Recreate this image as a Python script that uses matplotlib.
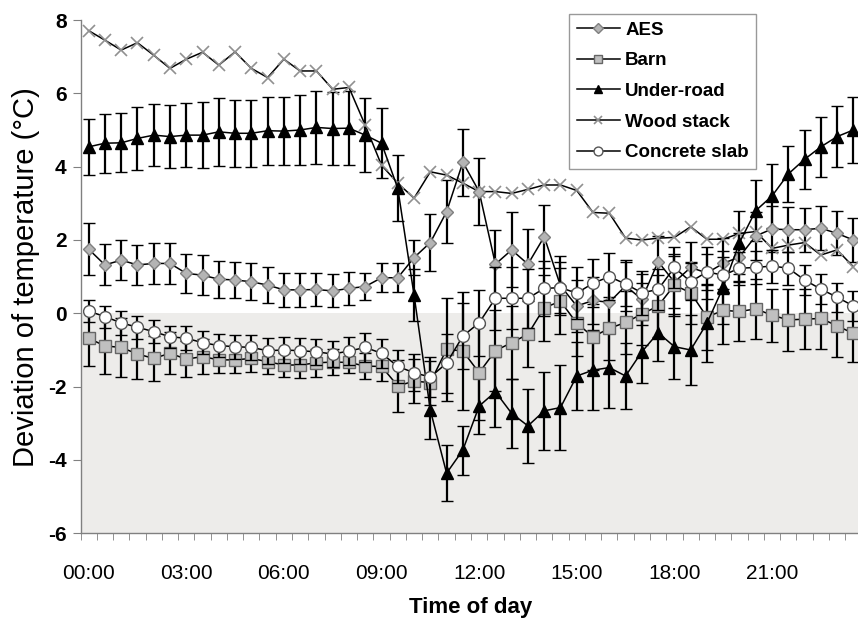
import numpy as np
import matplotlib
matplotlib.use("Agg")
import matplotlib.pyplot as plt
from matplotlib.lines import Line2D

plt.rcParams["font.family"] = ["Liberation Sans", "DejaVu Sans"]
plt.rcParams["axes.unicode_minus"] = False

# half-hour slots over one day
times = [f"{h:02d}:{m:02d}" for h in range(24) for m in (0, 30)]
tick_labels = ["00:00", "03:00", "06:00", "09:00", "12:00", "15:00", "18:00", "21:00"]

aes = [1.75, 1.32, 1.45, 1.32, 1.36, 1.36, 1.09, 1.04, 0.93, 0.91, 0.86, 0.77,
       0.64, 0.64, 0.65, 0.61, 0.68, 0.73, 0.97, 0.97, 1.52, 1.93, 2.77, 4.12,
       3.32, 1.34, 1.73, 1.34, 2.09, 0.75, 0.20, 0.35, 0.30, 0.75, 0.38, 1.41,
       0.85, 1.25, 1.10, 1.36, 1.54, 2.11, 2.30, 2.28, 2.28, 2.32, 2.18, 2.00]
aes_err = [0.70, 0.56, 0.55, 0.55, 0.55, 0.55, 0.53, 0.55, 0.50, 0.50, 0.50, 0.48,
           0.47, 0.47, 0.45, 0.45, 0.45, 0.38, 0.39, 0.39, 0.48, 0.78, 0.86, 0.92,
           0.92, 0.93, 1.02, 0.95, 0.86, 0.80, 0.70, 0.65, 0.65, 0.70, 0.70, 0.70,
           0.70, 0.70, 0.70, 0.70, 0.65, 0.65, 0.62, 0.62, 0.60, 0.60, 0.60, 0.60]

barn = [-0.68, -0.89, -0.93, -1.11, -1.23, -1.09, -1.25, -1.18, -1.27, -1.27, -1.23, -1.32,
        -1.41, -1.41, -1.35, -1.33, -1.34, -1.44, -1.45, -1.98, -1.85, -1.89, -0.98, -1.03,
        -1.62, -1.02, -0.80, -0.57, 0.15, 0.33, -0.27, -0.64, -0.41, -0.25, -0.02, 0.20,
        0.77, 0.56, -0.10, 0.08, 0.05, 0.12, -0.05, -0.18, -0.16, -0.14, -0.34, -0.55]
barn_err = [0.75, 0.77, 0.80, 0.69, 0.62, 0.57, 0.50, 0.48, 0.37, 0.37, 0.36, 0.34,
            0.34, 0.36, 0.38, 0.36, 0.30, 0.35, 0.40, 0.70, 0.60, 0.60, 1.40, 1.60,
            1.30, 1.10, 1.00, 0.90, 0.90, 0.90, 0.90, 0.90, 0.85, 0.85, 0.85, 0.85,
            0.85, 0.85, 0.90, 0.91, 0.80, 0.82, 0.72, 0.85, 0.81, 0.83, 0.84, 0.77]

under_road = [4.54, 4.64, 4.65, 4.77, 4.86, 4.82, 4.86, 4.86, 4.95, 4.91, 4.91, 4.98,
              4.97, 5.00, 5.07, 5.04, 5.05, 4.86, 4.64, 3.41, 0.50, -2.64, -4.36, -3.73,
              -2.53, -2.14, -2.73, -3.07, -2.66, -2.57, -1.71, -1.55, -1.48, -1.71, -1.05, -0.53,
              -0.91, -1.00, -0.27, 0.71, 1.93, 2.80, 3.20, 3.80, 4.20, 4.54, 4.82, 5.00]
under_road_err = [0.77, 0.80, 0.80, 0.85, 0.85, 0.85, 0.87, 0.90, 0.92, 0.92, 0.92, 0.93,
                  0.93, 0.95, 1.00, 1.00, 1.00, 1.00, 0.96, 0.90, 0.70, 0.80, 0.76, 0.67,
                  0.77, 0.95, 0.93, 1.00, 1.07, 1.17, 0.93, 1.09, 1.11, 0.91, 0.86, 0.77,
                  0.88, 0.96, 1.05, 1.00, 0.87, 0.83, 0.87, 0.77, 0.80, 0.82, 0.84, 0.90]

wood_stack = [7.71, 7.45, 7.18, 7.38, 7.04, 6.68, 6.93, 7.12, 6.77, 7.13, 6.68, 6.43,
              6.93, 6.61, 6.61, 6.11, 6.16, 5.13, 4.04, 3.55, 3.14, 3.86, 3.77, 3.55,
              3.32, 3.32, 3.27, 3.38, 3.50, 3.50, 3.35, 2.75, 2.73, 2.05, 2.00, 2.05,
              2.07, 2.36, 2.02, 2.02, 2.18, 2.23, 1.77, 1.86, 1.93, 1.59, 1.73, 1.27]

concrete = [0.06, -0.09, -0.26, -0.38, -0.50, -0.64, -0.68, -0.80, -0.88, -0.91, -0.93, -1.02,
            -1.00, -1.02, -1.05, -1.11, -1.03, -0.93, -1.09, -1.45, -1.62, -1.74, -1.36, -0.62,
            -0.26, 0.41, 0.41, 0.41, 0.68, 0.70, 0.55, 0.82, 1.00, 0.80, 0.56, 0.65,
            1.25, 0.86, 1.13, 1.04, 1.23, 1.25, 1.29, 1.23, 0.91, 0.66, 0.44, 0.20]
concrete_err = [0.30, 0.30, 0.32, 0.31, 0.32, 0.30, 0.33, 0.32, 0.32, 0.33, 0.33, 0.35,
                0.35, 0.35, 0.35, 0.35, 0.38, 0.40, 0.40, 0.45, 0.50, 0.55, 0.80, 0.90,
                0.90, 0.86, 0.85, 0.80, 0.75, 0.70, 0.70, 0.65, 0.65, 0.60, 0.60, 0.55,
                0.55, 0.50, 0.50, 0.50, 0.45, 0.45, 0.45, 0.45, 0.40, 0.40, 0.40, 0.40]

AXIS_GREY = "#808080"
SHADE = "#EDECEA"

# marker styles per series
styles = {
    "AES": dict(marker="D", ms=6.5, mfc="#B4B4B4", mec="#7F7F7F", mew=1.0),
    "Barn": dict(marker="s", ms=8, mfc="#C0C0C0", mec="#666666", mew=1.0),
    "Under-road": dict(marker="^", ms=8.5, mfc="black", mec="black", mew=1.0),
    "Wood stack": dict(marker="x", ms=8.5, mfc="none", mec="#909090", mew=1.2),
    "Concrete slab": dict(marker="o", ms=8.5, mfc="white", mec="#555555", mew=1.0),
}

fig = plt.figure(figsize=(8.58, 6.23), dpi=100, facecolor="white")
ax_l, ax_b, ax_w, ax_h = 80.5 / 858, 89.7 / 623, 781 / 858, 513.3 / 623
ax = fig.add_axes([ax_l, ax_b, ax_w, ax_h])

x = np.arange(len(times))
ax.set_xlim(-0.5, len(times) - 0.5)
ax.set_ylim(-6, 8)

# grey band below zero
ax.axhspan(-6, 0, color=SHADE, zorder=0, lw=0)

eb = dict(ecolor="black", elinewidth=1.6, capsize=4, capthick=1.6, color="black", lw=1.1)

ax.errorbar(x, aes, yerr=aes_err, zorder=3, **styles["AES"], **eb)
ax.errorbar(x, barn, yerr=barn_err, zorder=3, **styles["Barn"], **eb)
ax.errorbar(x, under_road, yerr=under_road_err, zorder=3, **styles["Under-road"], **eb)
ax.plot(x, wood_stack, color="black", lw=1.1, zorder=3, **styles["Wood stack"])
ax.errorbar(x, concrete, yerr=concrete_err, zorder=4, **styles["Concrete slab"], **eb)

# axes styling
for s in ["top", "right"]:
    ax.spines[s].set_visible(False)
for s in ["left", "bottom"]:
    ax.spines[s].set_color(AXIS_GREY)
    ax.spines[s].set_linewidth(1.0)

ax.set_yticks(np.arange(-6, 9, 2))
ax.tick_params(axis="y", direction="out", length=6, color=AXIS_GREY, labelsize=15, pad=4)
for t in ax.get_yticklabels():
    t.set_fontweight("bold")

ax.set_xticks([times.index(t) for t in tick_labels])
ax.set_xticklabels(tick_labels)
ax.set_xticks(np.arange(len(times) + 1) - 0.5, minor=True)
ax.tick_params(axis="x", which="major", length=0, labelsize=15, pad=22)
ax.tick_params(axis="x", which="minor", direction="out", length=5, color=AXIS_GREY)

ax.set_xlabel("Time of day", fontsize=16, fontweight="bold", labelpad=10)
ax.set_ylabel("Deviation of temperature (\u00b0C)", fontsize=21, labelpad=6)

# legend with plain line+marker handles, fixed order
order = ["AES", "Barn", "Under-road", "Wood stack", "Concrete slab"]
handles = []
for name in order:
    st = dict(styles[name])
    st["ms"] = st["ms"] * 0.75
    handles.append(Line2D([], [], color="black", lw=1.1, **st))
leg = ax.legend(handles, order, loc="upper left",
                bbox_to_anchor=((569 - 80.5) / 781, (623 - 14 - 89.7) / 513.3),
                bbox_transform=ax.transAxes, borderaxespad=0, frameon=True, fancybox=False,
                handlelength=2.3, handletextpad=0.3, labelspacing=0.72, borderpad=0.4,
                prop={"weight": "bold", "size": 13.5})
leg.get_frame().set_edgecolor(AXIS_GREY)
leg.get_frame().set_linewidth(1.0)

fig.savefig("out.png", dpi=100, facecolor="white")
